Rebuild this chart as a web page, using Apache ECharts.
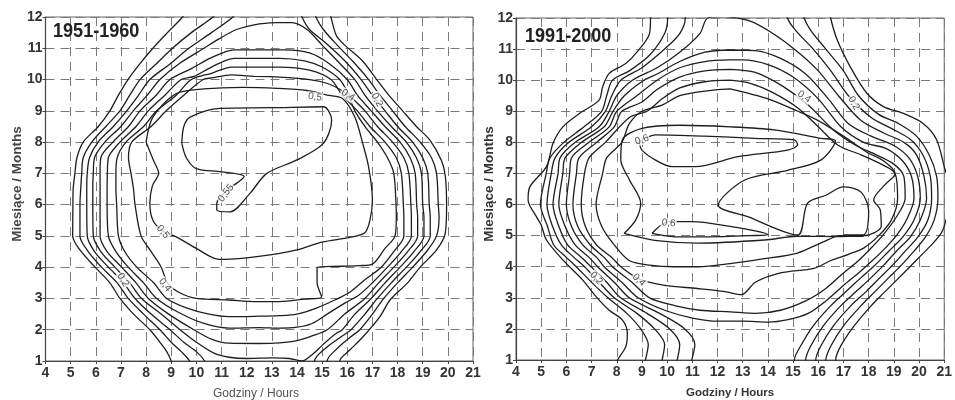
<!DOCTYPE html>
<html>
<head>
<meta charset="utf-8">
<script src="https://cdn.jsdelivr.net/npm/echarts@6/dist/echarts.min.js"></script>
<style>
html, body { margin: 0; padding: 0; background: #fff; }
#chart { width: 955px; height: 400px; }
</style>
</head>
<body>
<div id="chart"></div>
<script>
// axes: hours on x, months on y
var hourMin = 4, hourMax = 21;
var monthMin = 1, monthMax = 12;
var titles = ['1951-1960', '1991-2000'];

// ---- 1951-1960 contours, [hour, month] ----
var left005 = [[9.7,12.3],[9.45,12],[8.85,11.5],[8.27,11],[7.75,10.5],[7.28,10],[6.9,9.5],[6.56,9],[6.1,8.5],[5.5,8],[5.25,7.5],[5.17,7],[5.1,6.5],[5.09,6],[5.08,5],[5.37,4.55],[5.97,4.0],[6.56,3.5],[6.96,3.0],[7.5,2.5],[8.15,2.0],[8.55,1.6],[8.82,1.3],[9.0,1],[9.1,0.7],[15.8,0.7],[15.7,1],[16.1,1.35],[16.6,1.75],[17.3,2.42],[17.7,2.95],[18.4,3.5],[18.9,4.0],[19.55,4.55],[19.9,5.1],[19.95,6],[19.9,6.9],[19.75,7.4],[19.3,8.05],[18.75,8.5],[18.2,9.0],[17.65,9.5],[17.17,10],[16.6,10.6],[15.9,11.1],[15.57,11.4],[15.35,12],[15.25,12.3]];
var left010 = [[11.0,12.3],[10.66,12],[9.8,11.5],[9.05,11],[8.4,10.5],[7.76,10],[7.35,9.5],[6.96,9],[6.4,8.5],[5.84,8],[5.5,7.5],[5.44,7],[5.4,6.5],[5.37,6],[5.37,5],[5.7,4.5],[6.23,4.0],[6.85,3.5],[7.29,3.0],[7.9,2.5],[8.55,2.0],[9.0,1.6],[9.4,1.3],[9.73,1],[9.85,0.7],[15.3,0.7],[15.2,1],[15.6,1.4],[16.1,1.75],[16.5,2.0],[17.0,2.5],[17.45,3.0],[18.0,3.5],[18.6,4.0],[19.2,4.55],[19.55,5.0],[19.65,5.6],[19.62,6],[19.55,7],[19.35,7.5],[18.9,8.0],[18.3,8.5],[17.8,9.0],[17.3,9.5],[16.85,10],[16.2,10.6],[15.6,11.1],[15.05,11.6],[14.75,12],[14.65,12.3]];
var left015 = [[11.7,12.3],[11.45,12],[10.6,11.5],[9.7,11],[8.95,10.5],[8.15,10],[7.7,9.5],[7.23,9],[6.7,8.5],[6.09,8],[5.75,7.5],[5.66,7],[5.64,6.5],[5.64,6],[5.66,5],[5.95,4.5],[6.5,4.0],[7.1,3.5],[7.56,3.0],[8.2,2.5],[8.95,2.0],[9.5,1.6],[10.0,1.3],[10.33,1],[10.45,0.7],[14.8,0.7],[14.7,1],[15.2,1.45],[15.8,1.8],[16.15,2.0],[16.7,2.5],[17.2,3.0],[17.75,3.5],[18.35,4.0],[18.9,4.5],[19.3,5.0],[19.3,5.6],[19.26,6],[19.2,7],[19.0,7.5],[18.6,8.0],[18.0,8.5],[17.5,9.0],[17.0,9.5],[16.55,10],[15.9,10.6],[15.1,11.2],[14.5,11.6],[14.2,12],[14.1,12.3]];
var left020 = [[12.5,11.78],[11.6,11.6],[10.9,11.3],[10.3,11],[9.3,10.5],[8.55,10],[8.05,9.5],[7.49,9],[7.0,8.5],[6.36,8],[5.95,7.5],[5.9,7],[5.88,6.5],[5.88,6],[5.9,5],[6.2,4.5],[6.76,4.0],[7.35,3.5],[7.82,3.0],[8.6,2.5],[9.35,2.0],[10.0,1.6],[10.7,1.25],[11.3,1.12],[12.0,1.08],[13.0,1.1],[13.7,1.08],[14.2,1.0],[14.6,1.2],[15.0,1.5],[15.5,1.85],[15.8,2.0],[16.3,2.5],[16.95,3.0],[17.5,3.5],[18.1,4.0],[18.65,4.5],[19.05,5.0],[19.05,5.6],[19.0,6],[18.95,7],[18.75,7.5],[18.35,8.0],[17.75,8.5],[17.2,9.0],[16.7,9.5],[16.3,10],[15.6,10.6],[15.0,11.1],[14.4,11.6],[13.8,11.82],[13.2,11.82],[12.5,11.78]];
var left025 = [[12.3,10.95],[11.5,10.95],[10.6,10.7],[9.8,10.35],[8.95,10],[8.4,9.5],[7.76,9],[7.3,8.5],[6.68,8],[6.2,7.5],[6.17,7],[6.17,6.5],[6.17,6],[6.17,5],[6.45,4.5],[7.03,4.0],[7.6,3.5],[8.09,3.0],[8.9,2.5],[9.9,2.0],[10.6,1.7],[11.3,1.57],[12.5,1.56],[13.3,1.58],[14.0,1.65],[14.6,1.8],[15.2,2.0],[15.9,2.5],[16.7,3.0],[17.25,3.5],[17.85,4.0],[18.4,4.5],[18.8,5.0],[18.8,5.6],[18.76,6],[18.7,7],[18.5,7.5],[18.1,8.0],[17.5,8.5],[16.95,9.0],[16.4,9.5],[16.0,10],[15.3,10.5],[14.5,10.85],[13.5,10.95],[12.3,10.95]];
var left030 = [[12.3,10.68],[11.5,10.68],[10.6,10.4],[9.9,10.1],[9.4,10],[8.75,9.5],[8.09,9],[7.6,8.5],[6.96,8],[6.5,7.5],[6.46,7],[6.45,6.5],[6.45,6],[6.5,5],[6.8,4.5],[7.29,4.0],[7.9,3.5],[8.42,3.0],[9.3,2.55],[10.3,2.2],[11.3,2.05],[12.5,2.07],[13.3,2.05],[14.0,2.08],[14.6,2.2],[15.2,2.5],[15.9,2.85],[16.45,3.1],[17.0,3.5],[17.6,4.0],[18.15,4.5],[18.55,5.0],[18.55,5.6],[18.53,6],[18.45,7],[18.25,7.5],[17.8,8.0],[17.2,8.5],[16.7,9.0],[16.1,9.5],[15.7,10],[15.0,10.4],[14.3,10.6],[13.3,10.68],[12.3,10.68]];
var left035 = [[12.3,10.4],[11.4,10.4],[10.6,10.2],[9.8,10],[9.2,9.5],[8.42,9],[7.9,8.5],[7.2,8],[6.85,7.5],[6.8,7],[6.8,6.5],[6.83,6],[6.9,5],[7.15,4.5],[7.63,4.0],[8.3,3.5],[8.82,3.0],[9.6,2.7],[10.5,2.5],[11.3,2.42],[12.3,2.43],[13.3,2.45],[14.0,2.5],[14.8,2.7],[15.5,2.95],[16.1,3.2],[16.7,3.6],[17.35,4.0],[17.85,4.5],[18.25,5.0],[18.25,5.6],[18.23,6],[18.15,7],[17.95,7.5],[17.5,8.0],[16.9,8.5],[16.4,9.0],[15.8,9.5],[15.35,10],[14.5,10.3],[13.3,10.4],[12.3,10.4]];
var left040 = [[12.3,10.1],[11.4,10.15],[10.6,10.05],[10.27,10],[9.5,9.5],[8.8,9],[8.2,8.5],[7.43,8],[7.3,7.5],[7.4,7],[7.5,6.5],[7.56,6],[7.8,5],[8.2,4.5],[8.6,4.0],[8.85,3.5],[9.3,3.2],[10.0,3.0],[11.3,2.95],[12.3,2.9],[13.3,2.9],[14.3,2.98],[14.98,3.05],[14.8,3.5],[14.8,4.0],[15.8,4.03],[16.5,4.05],[17.0,4.1],[17.5,4.6],[17.9,5.0],[17.95,5.6],[17.94,6],[17.85,7],[17.6,7.5],[17.2,8.0],[16.7,8.5],[16.3,9.0],[16.0,9.5],[15.3,9.85],[14.5,10.0],[13.3,10.08],[12.3,10.1]];
var left050 = [[8.0,8.0],[8.27,8.8],[9.2,9.55],[10.3,9.7],[11.85,9.75],[13.2,9.72],[14.4,9.65],[15.2,9.5],[15.8,9.4],[16.3,8.8],[16.6,8.0],[16.85,7.2],[17.0,6.15],[16.9,5.5],[16.7,5.1],[16.1,4.95],[15.0,4.8],[14.0,4.55],[13.0,4.4],[12.0,4.3],[10.9,4.25],[10.0,4.6],[9.2,4.97],[8.67,5.15],[8.27,5.5],[8.15,6.05],[8.25,6.6],[8.5,7.0],[8.3,7.4],[8.0,8.0]];
var left055 = [[9.42,7.97],[9.5,8.5],[9.75,8.8],[10.94,9.08],[13.0,9.1],[15.05,9.13],[15.38,8.7],[15.05,7.96],[14.0,7.43],[12.8,7.0],[12.13,6.36],[11.34,5.77],[10.81,5.83],[10.81,6.04],[11.3,6.5],[11.9,6.9],[11.0,7.05],[10.0,7.15],[9.6,7.5],[9.42,7.97]];
var leftLabels = [[17.18,9.35,'0,2',-62],[16.03,9.5,'0,4',-32],[14.72,9.44,'0,5',-8],[11.18,6.37,'0,55',52],[8.67,5.13,'0,5',-50],[8.75,3.43,'0,4',-52],[7.08,3.59,'0,2',-60]];

// ---- 1991-2000 contours ----
var right010 = [[9.34,12.3],[9.34,12],[9.3,11.5],[8.8,10.9],[8.36,10.54],[7.7,10.22],[7.44,9.79],[7.3,9.36],[6.52,8.93],[5.86,8.5],[5.47,7.97],[5.21,7.22],[4.55,6.57],[4.48,6.15],[4.81,5.61],[5.0,5.34],[5.21,4.86],[5.86,4.22],[6.65,3.57],[7.18,3.04],[7.7,2.6],[8.22,2.29],[8.42,1.86],[8.36,1.43],[8.03,1.0],[7.9,0.7],[16.8,0.7],[16.69,1.0],[16.88,1.43],[17.4,2.07],[18.06,2.71],[18.59,3.15],[19.11,3.57],[19.64,4.0],[20.16,4.43],[20.55,4.75],[20.88,5.08],[21.0,5.3],[21.2,6.0],[21.2,6.6],[21.0,7.22],[20.69,8.1],[20.16,8.61],[19.38,8.93],[18.59,9.15],[17.93,9.58],[17.27,10.43],[16.75,11.3],[16.49,12],[16.45,12.3]];
var right015 = [[10.02,12.3],[10.02,12],[9.9,11.5],[9.3,10.8],[8.5,10.3],[7.83,10],[7.6,9.5],[7.4,9],[6.7,8.5],[5.9,8],[5.35,7.5],[5.2,7],[4.97,6],[5.25,5.3],[5.5,4.7],[6.0,4.3],[6.39,4],[7.0,3.5],[7.65,3],[8.4,2.5],[8.95,2],[9.25,1.5],[9.14,1.0],[9.05,0.7],[16.4,0.7],[16.3,1.0],[16.5,1.45],[17.0,2.1],[17.7,2.75],[18.25,3.2],[18.8,3.65],[19.3,4.05],[19.8,4.5],[20.25,4.95],[20.6,5.5],[20.75,6.2],[20.7,6.9],[20.4,7.6],[19.9,8.2],[19.2,8.6],[18.4,8.9],[17.6,9.5],[17.0,10.3],[16.3,11.0],[15.7,11.6],[15.44,12],[15.4,12.3]];
var right020 = [[10.72,12.3],[10.72,12],[10.5,11.5],[9.9,11.0],[9.0,10.4],[8.16,10],[7.8,9.5],[7.55,9],[7.0,8.5],[6.1,8],[5.55,7.5],[5.4,7],[5.23,6],[5.45,5.3],[5.8,4.7],[6.3,4.3],[6.72,4],[7.3,3.5],[7.9,3],[8.8,2.5],[9.5,2],[9.9,1.5],[9.8,1.0],[9.7,0.7],[16.0,0.7],[15.9,1.0],[16.1,1.45],[16.6,2.1],[17.3,2.75],[17.9,3.2],[18.45,3.65],[18.95,4.05],[19.45,4.5],[19.95,4.95],[20.35,5.5],[20.5,6.2],[20.45,6.9],[20.15,7.6],[19.65,8.1],[18.9,8.45],[18.1,8.8],[17.2,9.5],[16.5,10.3],[15.8,11.0],[15.1,11.6],[14.78,12],[14.75,12.3]];
var right025 = [[12.3,12.05],[11.61,12.0],[11.3,11.5],[10.5,10.9],[9.6,10.4],[8.62,10],[8.0,9.5],[7.7,9],[7.3,8.5],[6.35,8],[5.75,7.5],[5.67,7],[5.47,6],[5.7,5.3],[6.05,4.7],[6.6,4.3],[6.98,4],[7.6,3.5],[8.15,3],[9.2,2.5],[10.1,2],[10.5,1.5],[10.4,1.0],[10.3,0.7],[15.6,0.7],[15.5,1.0],[15.7,1.45],[16.2,2.1],[16.9,2.75],[17.5,3.2],[18.1,3.65],[18.6,4.05],[19.1,4.5],[19.65,4.95],[20.05,5.5],[20.3,6.2],[20.2,6.9],[19.9,7.6],[19.4,8.0],[18.6,8.3],[17.7,8.7],[16.8,9.5],[16.0,10.3],[15.2,10.9],[14.2,11.5],[13.3,11.9],[12.3,12.05]];
var right030 = [[12.5,10.97],[11.5,10.9],[10.5,10.6],[9.6,10.2],[9.08,10],[8.3,9.5],[7.85,9],[7.5,8.5],[6.6,8],[5.95,7.5],[5.86,7],[5.7,6],[5.95,5.3],[6.35,4.7],[6.9,4.3],[7.24,4],[7.9,3.5],[8.5,3],[9.7,2.5],[10.7,2],[11.1,1.5],[10.98,1.0],[10.9,0.7],[15.15,0.7],[15.05,1.0],[15.3,1.45],[15.8,2.1],[16.5,2.75],[17.1,3.2],[17.7,3.65],[18.25,4.05],[18.8,4.5],[19.35,4.95],[19.8,5.5],[20.05,6.2],[19.95,6.9],[19.6,7.5],[19.0,7.9],[18.1,8.2],[17.2,8.6],[16.4,9.4],[15.5,10.2],[14.5,10.7],[13.5,10.95],[12.5,10.97]];
var right035 = [[12.5,10.65],[11.5,10.6],[10.5,10.4],[9.6,10.0],[8.8,9.5],[8.0,9],[7.7,8.5],[6.9,8],[6.2,7.5],[6.13,7],[6.0,6],[6.2,5.3],[6.65,4.7],[7.2,4.3],[7.5,4],[8.2,3.5],[8.85,3],[9.9,2.6],[11.0,2.35],[12.0,2.25],[13.0,2.25],[14.0,2.22],[14.8,2.3],[15.6,2.5],[16.3,2.9],[17.0,3.4],[17.6,3.8],[18.15,4.2],[18.6,4.55],[19.1,5.0],[19.5,5.5],[19.8,6.2],[19.7,6.9],[19.35,7.4],[18.7,7.8],[17.8,8.0],[16.9,8.5],[16.0,9.4],[15.0,10.1],[14.0,10.5],[13.0,10.65],[12.5,10.65]];
var right040 = [[12.5,10.35],[11.5,10.3],[10.5,10.1],[9.6,9.7],[9.0,9.3],[8.2,9],[7.9,8.5],[7.2,8],[6.5,7.5],[6.4,7],[6.26,6],[6.45,5.3],[6.95,4.7],[7.5,4.3],[7.83,4],[8.6,3.5],[9.3,3],[10.3,2.75],[11.3,2.6],[12.5,2.55],[13.5,2.5],[14.5,2.6],[15.5,2.9],[16.3,3.3],[17.0,3.8],[17.6,4.2],[18.1,4.6],[18.6,5.05],[19.1,5.6],[19.45,6.2],[19.4,6.9],[19.0,7.3],[18.3,7.6],[17.5,7.9],[16.6,8.4],[15.6,9.2],[14.6,9.8],[13.5,10.25],[12.5,10.35]];
var right045 = [[12.5,10.0],[11.5,9.95],[10.5,9.75],[9.8,9.4],[9.2,9.0],[8.5,8.8],[7.55,8],[6.9,7.5],[6.72,7],[6.59,6],[6.75,5.3],[7.2,4.7],[7.8,4.3],[8.16,4],[8.9,3.6],[9.9,3.4],[11.2,3.3],[12.3,3.2],[12.95,3.1],[13.5,3.5],[14.5,3.8],[15.83,3.95],[16.5,4.2],[17.2,4.4],[17.8,4.6],[18.4,5.0],[18.9,5.5],[19.15,6.2],[19.05,7.0],[18.5,7.3],[17.7,7.6],[16.8,7.9],[16.0,8.5],[15.2,9.1],[14.2,9.6],[13.3,9.9],[12.5,10.0]];
var right050 = [[12.5,9.72],[11.5,9.65],[10.5,9.5],[9.8,9.2],[9.0,9.0],[8.5,8.6],[8.2,8.0],[7.6,7.5],[7.44,7],[7.18,6],[7.4,5.3],[7.9,4.7],[8.49,4.2],[9.3,4.05],[10.3,4.0],[11.24,4.0],[12.5,4.1],[13.8,4.25],[15.17,4.44],[16.2,4.8],[16.88,5.0],[17.8,5.0],[18.5,5.3],[18.46,5.83],[18.2,6.15],[18.6,6.6],[19.05,7.0],[18.6,7.4],[17.9,7.7],[17.0,8.2],[16.0,8.7],[15.2,9.0],[14.0,9.4],[12.5,9.72]];
var right055 = [[8.29,5.07],[8.75,5.5],[8.95,6.04],[8.5,6.8],[8.16,7.43],[8.22,8.08],[9.0,8.45],[10.5,8.55],[12.5,8.5],[14.26,8.4],[16.1,8.13],[16.68,8.05],[16.1,7.43],[14.78,7.1],[13.08,6.79],[12.03,5.98],[13.2,5.61],[15.18,5.02],[15.57,6.04],[16.3,6.3],[17.0,6.57],[17.7,6.4],[18.0,5.8],[17.8,5.02],[16.9,4.97],[15.18,4.98],[13.87,4.86],[11.24,4.76],[9.5,4.85],[8.29,5.07]];
var right060a = [[8.88,8.02],[9.54,8.24],[11.5,8.2],[13.47,8.13],[15.05,8.08],[15.18,7.92],[14.78,7.75],[12.82,7.54],[11.11,7.22],[10.19,7.22],[9.54,7.43],[9.0,7.75],[8.88,8.02]];
var right060b = [[9.4,5.07],[9.7,5.3],[10.06,5.45],[11.0,5.45],[12.5,5.3],[13.5,5.15],[14.0,5.03],[13.3,5.0],[12.2,4.97],[11.0,4.96],[10.2,4.97],[9.4,5.07]];
var rightSpike = [[17.0,5.0],[17.8,5.0]];
var rightLabels = [[17.41,9.26,'0,2',-60],[15.44,9.47,'0,4',-35],[9.0,8.08,'0,6',20],[10.06,5.4,'0,6',-5],[8.88,3.57,'0,4',-42],[7.18,3.63,'0,2',-48]];

var leftLines = [left005, left010, left015, left020, left025, left030, left035, left040, left050, left055];
var rightLines = [right010, right015, right020, right025, right030, right035, right040, right045, right050, right055, right060a, right060b];

var tickFont = { color: '#333', fontSize: 14, fontWeight: 'bold', fontFamily: 'Liberation Sans, Arial, sans-serif' };

function makeLine(data, gi, width) {
    return {
        type: 'line', xAxisIndex: gi, yAxisIndex: gi, data: data,
        symbol: 'none', smooth: 0.3, silent: true, clip: true,
        lineStyle: { color: '#1e1e1e', width: width || 1.3 }
    };
}

function makeLabels(list, gi) {
    return {
        type: 'scatter', xAxisIndex: gi, yAxisIndex: gi, symbolSize: 1, z: 5,
        itemStyle: { color: 'rgba(0,0,0,0)' },
        data: list.map(function (d) {
            return { value: [d[0], d[1]], name: d[2], label: { rotate: d[3] } };
        }),
        label: {
            show: true, position: 'inside', formatter: '{b}',
            fontSize: 10, color: '#1e1e1e', backgroundColor: '#fff', padding: [0, 1],
            fontFamily: 'Liberation Sans, Arial, sans-serif'
        }
    };
}

function xAxisFor(gi) {
    return {
        type: 'value', gridIndex: gi, min: hourMin, max: hourMax, interval: 1,
        axisLine: { lineStyle: { color: '#444', width: 1.2 } },
        axisTick: { length: 3, lineStyle: { color: '#444' } },
        axisLabel: Object.assign({ margin: 5 }, tickFont),
        splitLine: { show: true, lineStyle: { color: '#7a7a7a', type: [9, 6], width: 1 } }
    };
}

function yAxisFor(gi) {
    return {
        type: 'value', gridIndex: gi, min: monthMin, max: monthMax, interval: 1,
        axisLine: { lineStyle: { color: '#444', width: 1.2 } },
        axisTick: { length: 3, lineStyle: { color: '#444' } },
        axisLabel: Object.assign({ margin: 3 }, tickFont),
        splitLine: { show: true, lineStyle: { color: '#7a7a7a', type: [9, 6], width: 1 } }
    };
}

var series = [];
leftLines.forEach(function (d) { series.push(makeLine(d, 0)); });
rightLines.forEach(function (d) { series.push(makeLine(d, 1)); });
series.push(makeLine(rightSpike, 1, 2.6));
series.push(makeLabels(leftLabels, 0));
series.push(makeLabels(rightLabels, 1));

var myChart = echarts.init(document.getElementById('chart'));

var nameFont = 'bold 13.5px "Liberation Sans", Arial, sans-serif';
var titleFont = 'bold 21px "Liberation Sans", Arial, sans-serif';

var option = {
    animation: false,
    backgroundColor: '#fff',
    grid: [
        { left: 45.5, top: 17, width: 427.5, height: 344, show: true, borderColor: '#666', borderWidth: 1 },
        { left: 516, top: 18, width: 432, height: 342, show: true, borderColor: '#666', borderWidth: 1 }
    ],
    xAxis: [xAxisFor(0), xAxisFor(1)],
    yAxis: [yAxisFor(0), yAxisFor(1)],
    graphic: [
        { type: 'text', x: 53, y: 21, scaleX: 0.86, z: 10, style: { text: titles[0], fill: '#222', font: titleFont } },
        { type: 'text', x: 525, y: 26, scaleX: 0.86, z: 10, style: { text: titles[1], fill: '#222', font: titleFont } },
        { type: 'text', x: 17, y: 184, rotation: Math.PI / 2, style: { text: 'Miesiące / Months', fill: '#444', font: nameFont, textAlign: 'center', textVerticalAlign: 'middle' } },
        { type: 'text', x: 489, y: 184, rotation: Math.PI / 2, style: { text: 'Miesiące / Months', fill: '#333', font: nameFont, textAlign: 'center', textVerticalAlign: 'middle' } },
        { type: 'text', x: 213, y: 388, style: { text: 'Godziny / Hours', fill: '#555', font: '12px "Liberation Sans", Arial, sans-serif' } },
        { type: 'text', x: 686, y: 387, style: { text: 'Godziny / Hours', fill: '#333', font: 'bold 11.5px "Liberation Sans", Arial, sans-serif' } }
    ],
    series: series
};

myChart.setOption(option);
</script>
</body>
</html>
